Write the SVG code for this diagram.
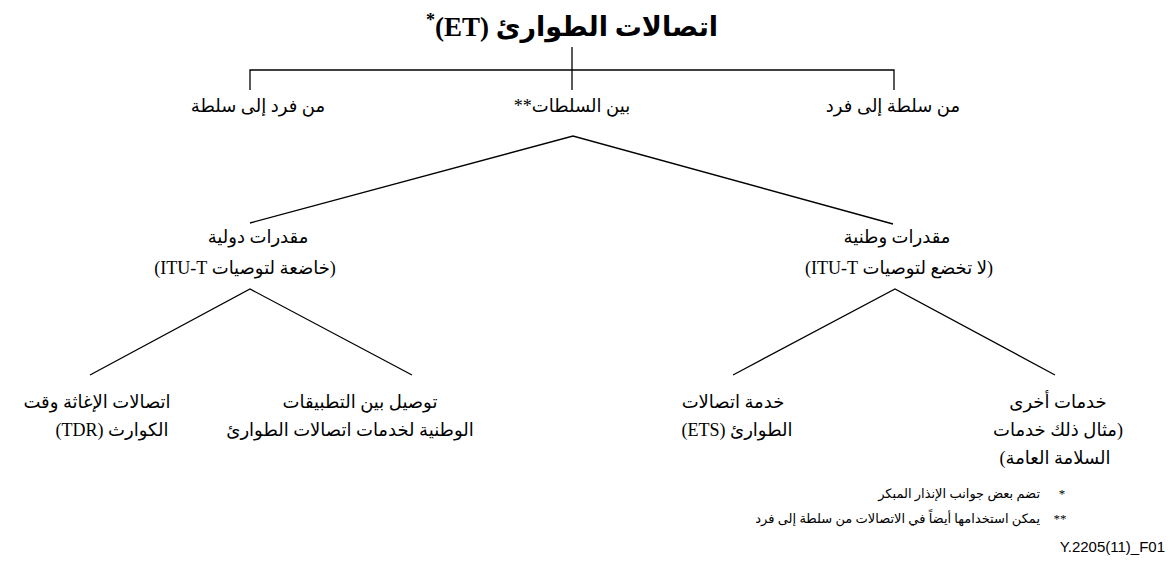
<svg xmlns="http://www.w3.org/2000/svg" width="1171" height="566" viewBox="0 0 1171 566">
<style>
text{font-family:"Liberation Serif","DejaVu Sans",serif;fill:#000}
.t{font-size:18px}
.ar{direction:rtl;unicode-bidi:embed}
.title{font-size:27px;font-weight:bold}
.fn{font-size:13px}
.code{font-family:"Liberation Sans",Arial,sans-serif;font-size:15px}
#connectors line,#connectors polyline{stroke:#000;stroke-width:1.3;fill:none}
</style>
<rect width="1171" height="566" fill="#fff"/>
<g id="connectors">
<polyline points="250,90 250,70 894,70 894,90"/>
<line x1="572" y1="47" x2="572" y2="90"/>
<polyline points="250,223 573,136 893,224"/>
<polyline points="90,375 250,289 412,375"/>
<polyline points="733,375 895,289 1055,375"/>
</g>
<g id="node-root"><text class="title ar" x="572" y="36" text-anchor="middle">اتصالات الطوارئ (ET)<tspan baseline-shift="super" font-size="18">*</tspan></text></g>
<g id="node-c2a"><text class="t ar" x="258" y="112" text-anchor="middle">من فرد إلى سلطة</text></g>
<g id="node-a2a"><text class="t ar" x="572" y="112" text-anchor="middle">بين السلطات**</text></g>
<g id="node-a2c"><text class="t ar" x="893" y="112" text-anchor="middle">من سلطة إلى فرد</text></g>
<g id="node-intl">
<text class="t ar" x="258" y="243" text-anchor="middle">مقدرات دولية</text>
<text class="t ar" x="245" y="274" text-anchor="middle">(خاضعة لتوصيات ITU-T)</text>
</g>
<g id="node-nat">
<text class="t ar" x="897" y="243" text-anchor="middle">مقدرات وطنية</text>
<text class="t ar" x="899" y="274" text-anchor="middle">(لا تخضع لتوصيات ITU-T)</text>
</g>
<g id="node-tdr">
<text class="t ar" x="97" y="408" text-anchor="middle">اتصالات الإغاثة وقت</text>
<text class="t ar" x="112" y="436" text-anchor="middle">الكوارث (TDR)</text>
</g>
<g id="node-interconn">
<text class="t ar" x="360" y="408" text-anchor="middle">توصيل بين التطبيقات</text>
<text class="t ar" x="350" y="436" text-anchor="middle">الوطنية لخدمات اتصالات الطوارئ</text>
</g>
<g id="node-ets">
<text class="t ar" x="733" y="408" text-anchor="middle">خدمة اتصالات</text>
<text class="t ar" x="737" y="436" text-anchor="middle">الطوارئ (ETS)</text>
</g>
<g id="node-other">
<text class="t ar" x="1058" y="408" text-anchor="middle">خدمات أخرى</text>
<text class="t ar" x="1058" y="436" text-anchor="middle">(مثال ذلك خدمات</text>
<text class="t ar" x="1055" y="464" text-anchor="middle">السلامة العامة)</text>
</g>
<g id="footnotes">
<text class="fn" x="1062" y="498" text-anchor="middle">*</text>
<text class="fn ar" x="1040" y="498">تضم بعض جوانب الإنذار المبكر</text>
<text class="fn" x="1060" y="523" text-anchor="middle">**</text>
<text class="fn ar" x="1040" y="523">يمكن استخدامها أيضاً في الاتصالات من سلطة إلى فرد</text>
</g>
<text class="code" x="1165" y="552" text-anchor="end">Y.2205(11)_F01</text>
</svg>
